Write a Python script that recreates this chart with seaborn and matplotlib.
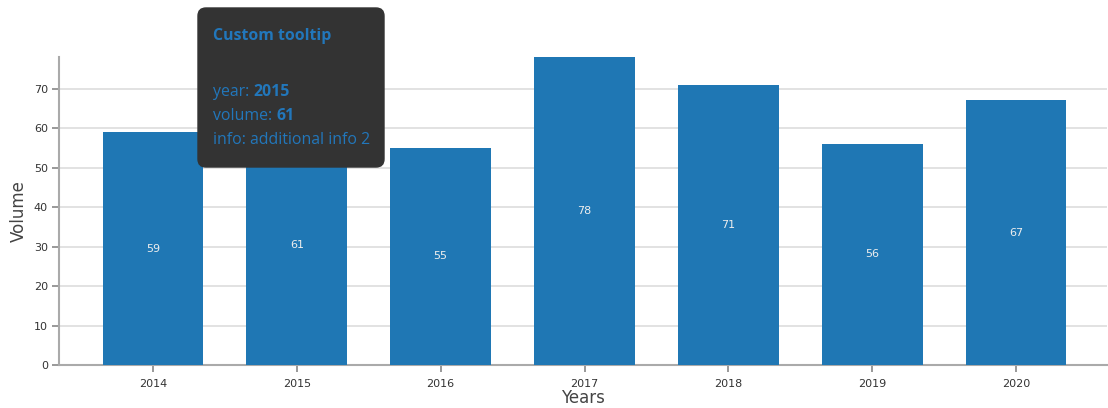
import matplotlib
matplotlib.use("Agg")
import matplotlib.pyplot as plt
from matplotlib.patches import FancyBboxPatch
import seaborn as sns
import pandas as pd

years = ["2014", "2015", "2016", "2017", "2018", "2019", "2020"]
volumes = [59, 61, 55, 78, 71, 56, 67]
y_ticks = [0, 10, 20, 30, 40, 50, 60, 70]
tooltip_title = "Custom tooltip"
tooltip_year = "2015"
tooltip_volume = "61"
tooltip_info = "additional info 2"

sns.set_theme(style="white")
plt.rcParams['font.family'] = ['DejaVu Sans']

W, H = 1108, 408
fig = plt.figure(figsize=(W / 100, H / 100), dpi=100)
ax = fig.add_axes([59 / W, 43 / H, (1107 - 59) / W, (351 - 43) / H])

df = pd.DataFrame({"Years": years, "Volume": volumes})
sns.barplot(data=df, x="Years", y="Volume", color="#1f77b4", saturation=1,
            width=0.70, ax=ax, zorder=3, edgecolor="none", linewidth=0)

ax.set_ylim(0, 78)
ax.set_xlim(-0.653, 6.632)
ax.set_yticks(y_ticks)
ax.yaxis.grid(True, color="#dddddd", linewidth=1.2, zorder=0)
ax.set_axisbelow(True)

for s in ["top", "right"]:
    ax.spines[s].set_visible(False)
for s in ["left", "bottom"]:
    ax.spines[s].set_color("#aaaaaa")
    ax.spines[s].set_linewidth(1.5)

ax.tick_params(axis="both", which="both", bottom=True, left=True, length=5,
               width=1.2, color="#888888", labelsize=8, labelcolor="#333333",
               pad=3)
ax.tick_params(axis="x", pad=5)
ax.set_xlabel("Years", fontsize=12, color="#444444", labelpad=0)
ax.set_ylabel("Volume", fontsize=12, color="#444444", labelpad=4)

for i, v in enumerate(volumes):
    ax.text(i, v / 2, str(v), ha="center", va="center", color="#eeeeee",
            fontsize=8, zorder=4)

# Tooltip overlay in pixel coordinates
ov = fig.add_axes([0, 0, 1, 1], zorder=10)
ov.set_xlim(0, W)
ov.set_ylim(H, 0)
ov.axis("off")
ov.patch.set_alpha(0)
box = FancyBboxPatch((198, 8), 384 - 198, 167 - 8,
                     boxstyle="round,pad=0,rounding_size=8",
                     facecolor="#333333", edgecolor="#333333")
ov.add_patch(box)
tc = "#2277bb"
tf = ['Open Sans', 'DejaVu Sans']
fs = 11.4
ov.text(213, 36, tooltip_title, color=tc, fontsize=fs, family=tf,
        fontweight="bold", va="center", ha="left")

def line(y, label, value):
    t = ov.text(213, y, label, color=tc, fontsize=fs, family=tf,
                va="center", ha="left")
    if value is not None:
        fig.canvas.draw()
        bb = t.get_window_extent()
        ov.text(bb.x1 + 4, y, value, color=tc, fontsize=fs, family=tf,
                fontweight="bold", va="center", ha="left")

line(92, "year:", tooltip_year)
line(116, "volume:", tooltip_volume)
line(140, "info: " + tooltip_info, None)

fig.savefig("out.png", dpi=100)
